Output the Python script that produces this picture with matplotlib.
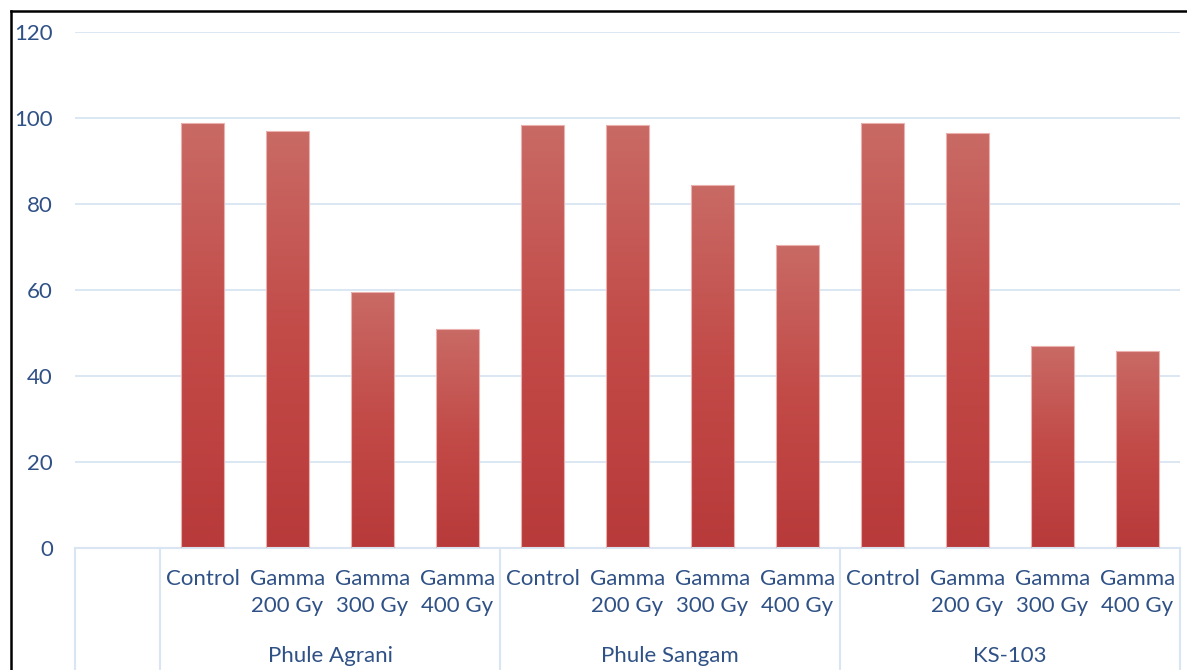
import numpy as np
import matplotlib.pyplot as plt
from matplotlib.lines import Line2D
from matplotlib.colors import LinearSegmentedColormap

plt.rcParams['font.family'] = ['Lato', 'DejaVu Sans']

varieties = ['Phule Agrani', 'Phule Sangam', 'KS-103']
treatments = ['Control', 'Gamma\n200 Gy', 'Gamma\n300 Gy', 'Gamma\n400 Gy']
values = {
    'Phule Agrani': [98.8, 97.0, 59.5, 50.9],
    'Phule Sangam': [98.4, 98.4, 84.5, 70.5],
    'KS-103': [98.8, 96.5, 47.0, 45.7],
}
yticks = [0, 20, 40, 60, 80, 100, 120]

text_col = '#2f5186'
grid_col = '#d9e5f3'

fig = plt.figure(figsize=(11.87, 6.70), dpi=100)
ax = fig.add_axes([75 / 1187, 1 - 548 / 670, 1105 / 1187, 516 / 670])

grad = LinearSegmentedColormap.from_list('bar', ['#b83a3a', '#c24a47', '#c96a65'])

# slot 0 is left empty, like in the original
xs, ys = [], []
pos = 1
for v in varieties:
    for val in values[v]:
        xs.append(pos)
        ys.append(val)
        pos += 1

bars = ax.bar(xs, ys, width=0.5, color='none', edgecolor='#eab1ae', linewidth=0.8, zorder=3)
g = np.linspace(0, 1, 256).reshape(-1, 1)
for b in bars:
    x0, w, h = b.get_x(), b.get_width(), b.get_height()
    im = ax.imshow(g, cmap=grad, origin='lower', aspect='auto',
                   extent=(x0, x0 + w, 0, h), zorder=2)
    im.set_clip_path(b)

ax.set_xlim(-0.5, 12.5)
ax.set_ylim(0, 120)
ax.set_yticks(yticks)
ax.set_yticklabels([str(t) for t in yticks], fontsize=16, color=text_col)
ax.tick_params(axis='y', length=0, pad=16)
ax.set_xticks([])
ax.grid(axis='y', color=grid_col, linewidth=1.3, zorder=0)
for s in ax.spines.values():
    s.set_visible(False)

# category axis box
tr = ax.get_xaxis_transform()
ax.plot([-0.5, 12.5], [0, 0], color=grid_col, lw=1.5, transform=tr, clip_on=False)
for xb in [-0.5, 0.5, 4.5, 8.5, 12.5]:
    ax.plot([xb, xb], [0, -0.3], color=grid_col, lw=1.5, transform=tr, clip_on=False)

for i, x in enumerate(xs):
    ax.text(x, -21 / 516, treatments[i % 4], transform=tr, ha='center', va='top',
            fontsize=16, color=text_col, linespacing=1.45)
for j, v in enumerate(varieties):
    ax.text(2.5 + 4 * j, -108 / 516, v, transform=tr, ha='center', va='center',
            fontsize=16, color=text_col)

# outer frame
fig.add_artist(Line2D([11 / 1187, 11 / 1187], [0, 1 - 11 / 670], color='black', lw=1.8))
fig.add_artist(Line2D([11 / 1187, 1], [1 - 11 / 670, 1 - 11 / 670], color='black', lw=1.8))

fig.savefig('out.png', dpi=100)
